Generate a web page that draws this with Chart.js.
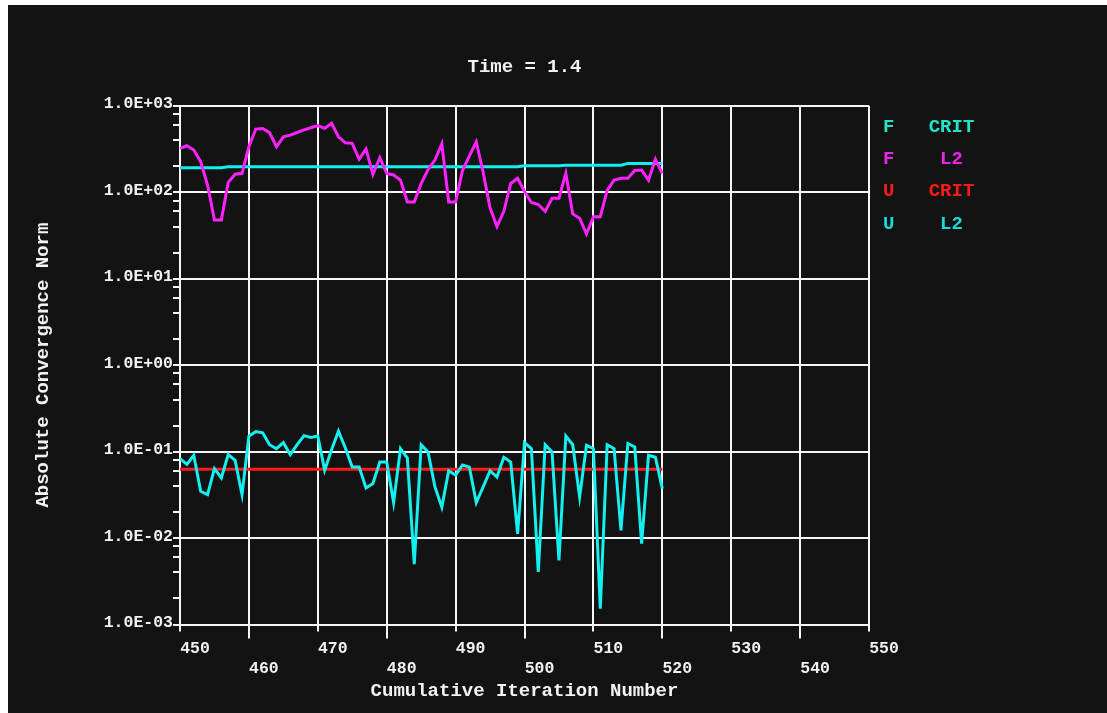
<!DOCTYPE html>
<html>
<head>
<meta charset="utf-8">
<script src="https://cdn.jsdelivr.net/npm/chart.js@4"></script>
<style>
  html, body { margin: 0; padding: 0; background: #ffffff; }
  #wrap { position: absolute; left: 8px; top: 5px; width: 1099px; height: 708px; background: #131313; }
</style>
</head>
<body>
<div id="wrap"><canvas id="c"></canvas></div>
<script>
// Cumulative iteration numbers (x values)
const iterations = [
  450, 451, 452, 453, 454, 455, 456, 457, 458, 459,
  460, 461, 462, 463, 464, 465, 466, 467, 468, 469,
  470, 471, 472, 473, 474, 475, 476, 477, 478, 479,
  480, 481, 482, 483, 484, 485, 486, 487, 488, 489,
  490, 491, 492, 493, 494, 495, 496, 497, 498, 499,
  500, 501, 502, 503, 504, 505, 506, 507, 508, 509,
  510, 511, 512, 513, 514, 515, 516, 517, 518, 519,
  520
];

// Force convergence criterion
const fCrit = [
  192, 192, 192, 192, 192, 192, 192, 197, 197, 197,
  197, 197, 197, 197, 197, 197, 197, 197, 197, 197,
  197, 197, 197, 197, 197, 197, 197, 197, 197, 197,
  197, 197, 197, 197, 197, 197, 197, 197, 197, 197,
  197, 197, 197, 197, 197, 197, 197, 197, 197, 197,
  202, 202, 202, 202, 202, 202, 205, 205, 205, 205,
  205, 205, 205, 205, 205, 215, 215, 215, 215, 215,
  215
];

// Force L2 norm
const fL2 = [
  321, 344, 307, 225, 121, 47.5, 47.5, 130, 161, 165,
  335, 537, 545, 488, 335, 437, 457, 490, 525, 556,
  589, 547, 625, 437, 372, 367, 241, 316, 161, 250,
  165, 158, 138, 77, 77, 126, 182, 235, 363, 77,
  77, 178, 263, 380, 170, 66, 40, 60, 126, 145,
  102, 76, 72, 60, 85, 85, 165, 56, 50, 33,
  52, 52, 105, 138, 145, 145, 178, 180, 138, 240,
  165
];

// Displacement convergence criterion
const uCrit = [
  0.0624, 0.0624, 0.0624, 0.0624, 0.0624, 0.0624, 0.0624, 0.0624, 0.0624, 0.0624,
  0.0624, 0.0624, 0.0624, 0.0624, 0.0624, 0.0624, 0.0624, 0.0624, 0.0624, 0.0624,
  0.0624, 0.0624, 0.0624, 0.0624, 0.0624, 0.0624, 0.0624, 0.0624, 0.0624, 0.0624,
  0.0624, 0.0624, 0.0624, 0.0624, 0.0624, 0.0624, 0.0624, 0.0624, 0.0624, 0.0624,
  0.0624, 0.0624, 0.0624, 0.0624, 0.0624, 0.0624, 0.0624, 0.0624, 0.0624, 0.0624,
  0.0624, 0.0624, 0.0624, 0.0624, 0.0624, 0.0624, 0.0624, 0.0624, 0.0624, 0.0624,
  0.0624, 0.0624, 0.0624, 0.0624, 0.0624, 0.0624, 0.0624, 0.0624, 0.0624, 0.0624,
  0.0624
];

// Displacement L2 norm
const uL2 = [
  0.083, 0.071, 0.0906, 0.0347, 0.0318, 0.0636, 0.0495, 0.092, 0.079, 0.0318,
  0.151, 0.17, 0.165, 0.12, 0.108, 0.127, 0.092, 0.12, 0.153, 0.146,
  0.151, 0.0608, 0.105, 0.172, 0.11, 0.0664, 0.0664, 0.038, 0.0427, 0.0758,
  0.0758, 0.0257, 0.108, 0.084, 0.005, 0.12, 0.099, 0.039, 0.0228, 0.06,
  0.0532, 0.07, 0.066, 0.0257, 0.039, 0.06, 0.0508, 0.086, 0.0758, 0.0112,
  0.127, 0.108, 0.00405, 0.12, 0.099, 0.0055, 0.151, 0.12, 0.0299, 0.118,
  0.108, 0.00152, 0.12, 0.108, 0.0123, 0.124, 0.113, 0.0086, 0.0906, 0.086,
  0.0373
];

// Axis ticks
const xTickValues = [450, 460, 470, 480, 490, 500, 510, 520, 530, 540, 550];
const yDecades = [1e-3, 1e-2, 1e-1, 1e0, 1e1, 1e2, 1e3];
const yTickLabels = ['1.0E-03', '1.0E-02', '1.0E-01', '1.0E+00', '1.0E+01', '1.0E+02', '1.0E+03'];
const yMinorSteps = [2, 4, 6, 8];

// Key entries: quantity, norm
const seriesKeys = [['F', 'CRIT'], ['F', 'L2'], ['U', 'CRIT'], ['U', 'L2']];
const keyColors = ['#22e4c8', '#ee22ee', '#ff1a1a', '#18dcdc'];

const FONT = "'Liberation Mono', 'Courier New', monospace";
const INK = '#f2f2f2';
const WHITE = '#f6f6f6';

const pairs = ys => iterations.map((x, i) => ({ x: x, y: ys[i] }));
const isDecade = v => Math.abs(Math.log10(v) - Math.round(Math.log10(v))) < 1e-9;

// Tick marks under the x axis: short under the upper label row, long under the lower row
const xTickMarks = {
  id: 'xTickMarks',
  afterDraw(chart) {
    const { ctx, chartArea, scales } = chart;
    ctx.save();
    ctx.strokeStyle = WHITE;
    ctx.lineWidth = 2;
    xTickValues.forEach((v, i) => {
      const px = Math.round(scales.x.getPixelForValue(v));
      const len = i % 2 ? 14 : 7;
      ctx.beginPath();
      ctx.moveTo(px, chartArea.bottom);
      ctx.lineTo(px, chartArea.bottom + len);
      ctx.stroke();
    });
    ctx.restore();
  }
};

// Series key drawn to the right of the plot
const sideKey = {
  id: 'sideKey',
  afterDraw(chart) {
    const { ctx, chartArea } = chart;
    ctx.save();
    ctx.font = 'bold 19px ' + FONT;
    ctx.textBaseline = 'middle';
    chart.data.datasets.forEach((ds, i) => {
      const y = chartArea.top + 21.3 + i * 32.33;
      ctx.fillStyle = keyColors[i];
      ctx.textAlign = 'left';
      ctx.fillText(seriesKeys[i][0], chartArea.right + 14, y);
      ctx.textAlign = 'center';
      ctx.fillText(seriesKeys[i][1], chartArea.right + 82.5, y);
    });
    ctx.restore();
  }
};

const lineStyle = { borderWidth: 3, pointRadius: 0, tension: 0, fill: false };

new Chart(document.getElementById('c'), {
  type: 'line',
  data: {
    datasets: [
      Object.assign({ label: 'F CRIT', data: pairs(fCrit), borderColor: '#10eeee', order: 4 }, lineStyle),
      Object.assign({ label: 'F L2', data: pairs(fL2), borderColor: '#ff22ff', order: 3 }, lineStyle),
      Object.assign({ label: 'U CRIT', data: pairs(uCrit), borderColor: '#ff1a1a', order: 2 }, lineStyle),
      Object.assign({ label: 'U L2', data: pairs(uL2), borderColor: '#14f0f0', order: 1 }, lineStyle)
    ]
  },
  options: {
    responsive: true,
    maintainAspectRatio: false,
    devicePixelRatio: 1,
    animation: false,
    layout: { padding: { left: 0, top: 0, right: 238, bottom: 0 } },
    plugins: {
      legend: { display: false },
      tooltip: { enabled: false },
      title: {
        display: true,
        text: 'Time = 1.4',
        color: INK,
        fullSize: false,
        font: { family: FONT, size: 19, weight: 'bold', lineHeight: 1.2 },
        padding: { top: 50.6, bottom: 27.3 }
      }
    },
    scales: {
      x: {
        type: 'linear',
        min: 450,
        max: 550,
        afterBuildTicks: s => { s.ticks = xTickValues.map(v => ({ value: v })); },
        afterFit: s => { s.height = 88.5; },
        ticks: {
          autoSkip: false,
          maxRotation: 0,
          minRotation: 0,
          labelOffset: 15,
          padding: 14.5,
          color: INK,
          font: { family: FONT, size: 16.5, weight: 'bold', lineHeight: '20px' },
          callback: (v, i) => (i % 2 === 0 ? [String(v), ''] : ['', String(v)])
        },
        grid: { color: WHITE, lineWidth: 2, drawTicks: false },
        border: { color: WHITE, width: 2 },
        title: {
          display: true,
          text: 'Cumulative Iteration Number',
          color: INK,
          font: { family: FONT, size: 19, weight: 'bold', lineHeight: 1.2 },
          padding: { top: 0, bottom: 10.6 }
        }
      },
      y: {
        type: 'logarithmic',
        min: 1e-3,
        max: 1e3,
        afterBuildTicks: s => {
          const list = [];
          yDecades.forEach((d, k) => {
            list.push({ value: d });
            if (k < yDecades.length - 1) yMinorSteps.forEach(m => list.push({ value: d * m }));
          });
          s.ticks = list;
        },
        afterFit: s => { s.width = 172; },
        ticks: {
          autoSkip: false,
          padding: 0,
          labelOffset: -1.5,
          color: INK,
          font: { family: FONT, size: 16.5, weight: 'bold' },
          callback: v => {
            const k = yDecades.findIndex(d => Math.abs(d - v) / d < 1e-6);
            return k < 0 ? '' : yTickLabels[k];
          }
        },
        grid: {
          lineWidth: 2,
          tickLength: 7,
          color: c => (c.tick && isDecade(c.tick.value) ? WHITE : 'rgba(0,0,0,0)'),
          tickColor: WHITE
        },
        border: { color: WHITE, width: 2 },
        title: {
          display: true,
          text: 'Absolute Convergence Norm',
          color: INK,
          font: { family: FONT, size: 19, weight: 'bold', lineHeight: 1.2 },
          padding: { top: 23.6, bottom: 0 }
        }
      }
    }
  },
  plugins: [xTickMarks, sideKey]
});
</script>
</body>
</html>
